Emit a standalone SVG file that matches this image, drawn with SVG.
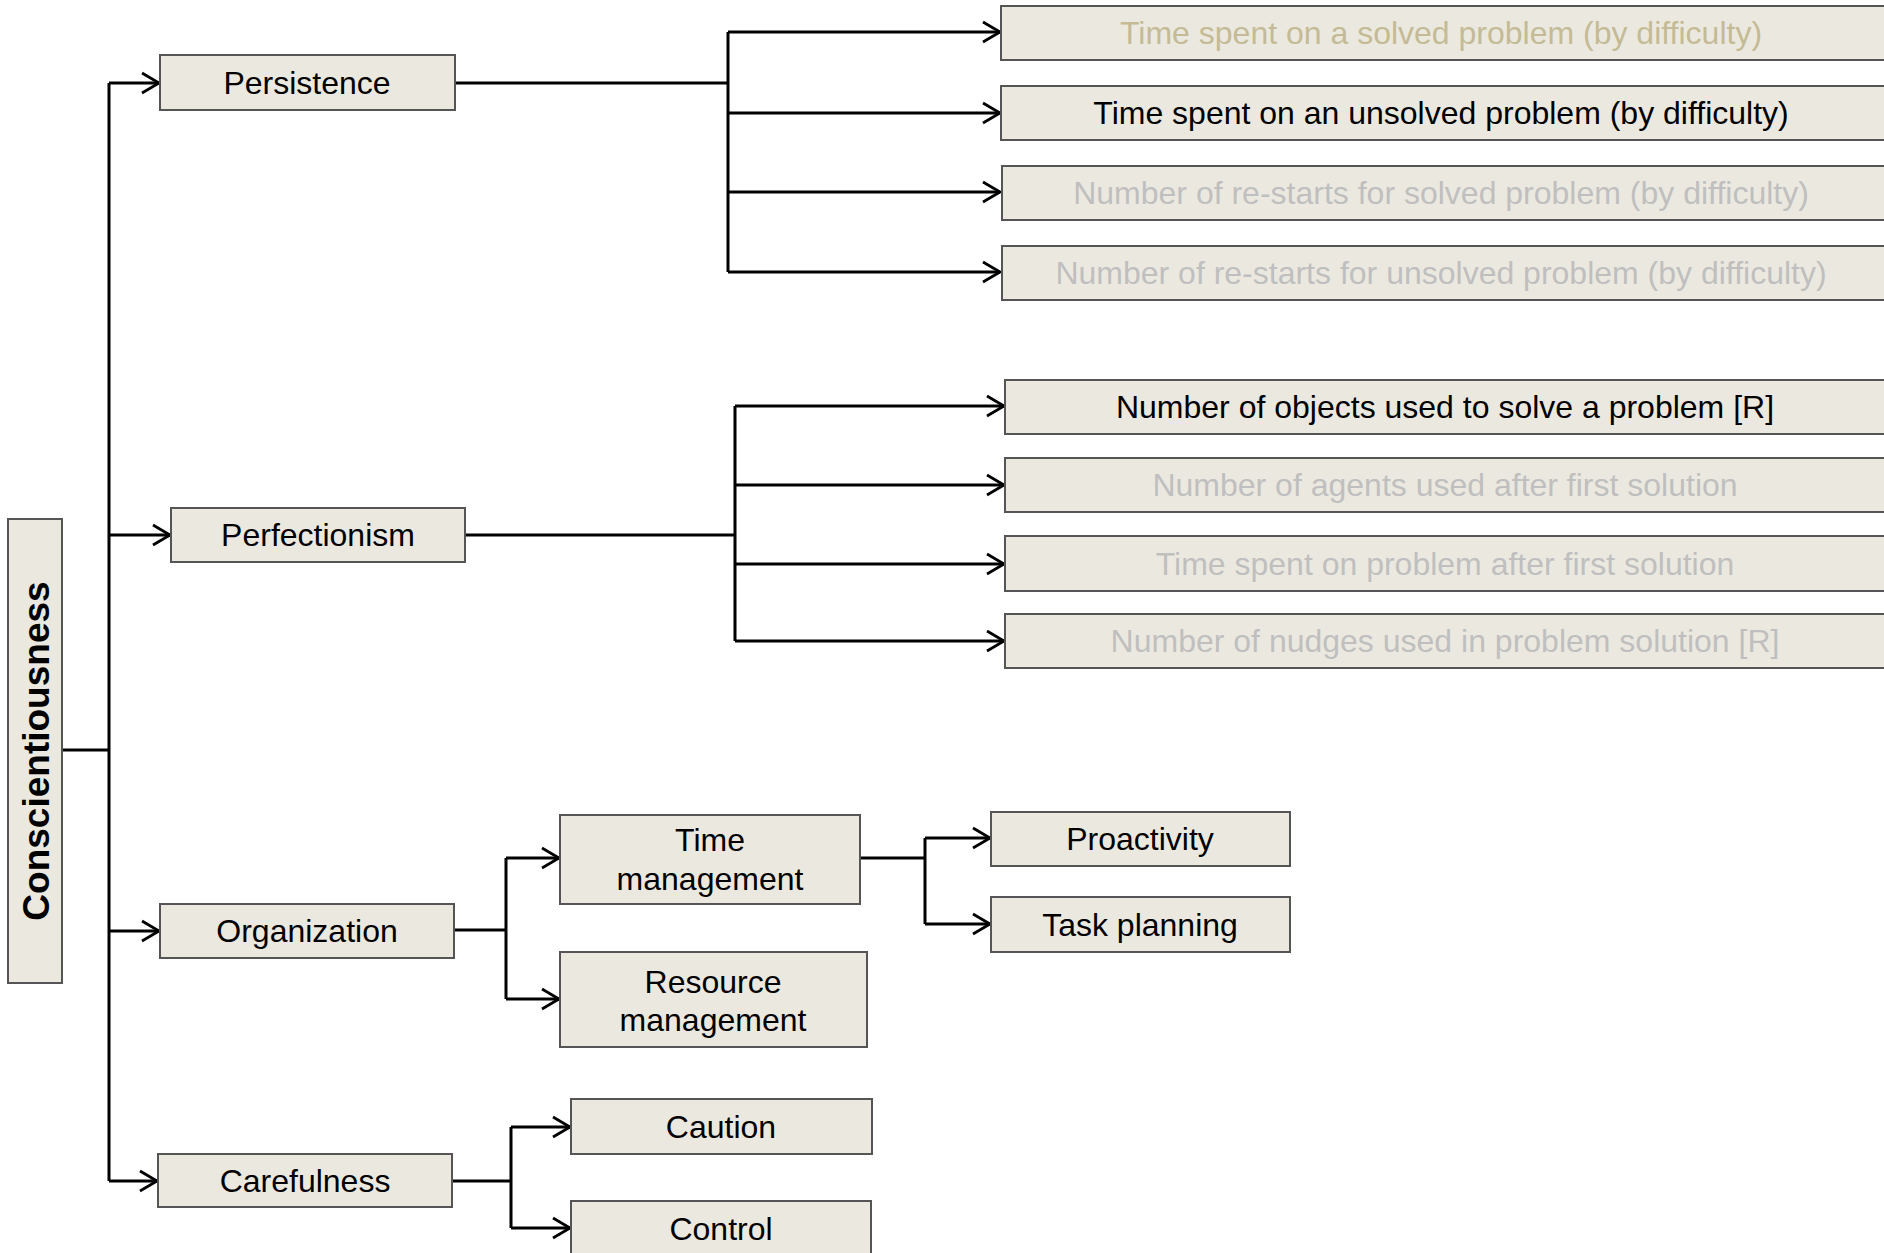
<svg xmlns="http://www.w3.org/2000/svg" width="1884" height="1253" viewBox="0 0 1884 1253">
<style>
.box{fill:#EBE9DF;stroke:#555555;stroke-width:2}
.t{font-family:"Liberation Sans",Arial,sans-serif;font-size:32px;text-anchor:middle;fill:#000}
.tan{fill:#C4BB96}
.gray{fill:#BFBFBF}
.c{fill:none;stroke:#000;stroke-width:3}
.a{fill:none;stroke:#000;stroke-width:3;marker-end:url(#arr)}
</style>
<defs>
<marker id="arr" markerUnits="userSpaceOnUse" viewBox="-20 -13 22 26" refX="0" refY="0" markerWidth="22" markerHeight="26" orient="auto" overflow="visible">
<path d="M-17,-10 L0,0 L-17,10" fill="none" stroke="#000" stroke-width="2.8"/>
</marker>
</defs>
<rect width="1884" height="1253" fill="#fff"/>
<g id="connectors">
<path class="c" d="M62,750 H109 M109,83 V1181"/>
<path class="a" d="M109,83 H159"/>
<path class="a" d="M109,535 H170"/>
<path class="a" d="M109,931 H159"/>
<path class="a" d="M109,1181 H157"/>
<path class="c" d="M455,83 H728 M728,32 V272"/>
<path class="a" d="M728,32 H1000"/>
<path class="a" d="M728,113 H1000"/>
<path class="a" d="M728,192 H1000"/>
<path class="a" d="M728,272 H1000"/>
<path class="c" d="M465,535 H735 M735,406 V641"/>
<path class="a" d="M735,406 H1004"/>
<path class="a" d="M735,485 H1004"/>
<path class="a" d="M735,564 H1004"/>
<path class="a" d="M735,641 H1004"/>
<path class="c" d="M454,930 H506 M506,858 V999"/>
<path class="a" d="M506,858 H559"/>
<path class="a" d="M506,999 H559"/>
<path class="c" d="M860,858 H925 M925,838 V924"/>
<path class="a" d="M925,838 H990"/>
<path class="a" d="M925,924 H990"/>
<path class="c" d="M452,1181 H511 M511,1127 V1228"/>
<path class="a" d="M511,1127 H570"/>
<path class="a" d="M511,1228 H570"/>
</g>
<g id="conscientiousness">
<rect class="box" x="8" y="519" width="54" height="464"/>
<text transform="translate(49,751) rotate(-90)" font-family="Liberation Sans,Arial,sans-serif" font-size="37" font-weight="bold" text-anchor="middle" fill="#000">Conscientiousness</text>
</g>
<g id="persistence">
<rect class="box" x="160" y="55" width="295" height="55"/>
<text class="t" x="307" y="94">Persistence</text>
</g>
<g id="perfectionism">
<rect class="box" x="171" y="508" width="294" height="54"/>
<text class="t" x="318" y="546">Perfectionism</text>
</g>
<g id="organization">
<rect class="box" x="160" y="904" width="294" height="54"/>
<text class="t" x="307" y="942">Organization</text>
</g>
<g id="carefulness">
<rect class="box" x="158" y="1154" width="294" height="53"/>
<text class="t" x="305" y="1192">Carefulness</text>
</g>
<g id="p1">
<rect class="box" x="1001" y="6" width="890" height="54"/>
<text class="t tan" x="1441" y="44">Time spent on a solved problem (by difficulty)</text>
</g>
<g id="p2">
<rect class="box" x="1001" y="86" width="890" height="54"/>
<text class="t" x="1441" y="124">Time spent on an unsolved problem (by difficulty)</text>
</g>
<g id="p3">
<rect class="box" x="1002" y="166" width="890" height="54"/>
<text class="t gray" x="1441" y="204">Number of re-starts for solved problem (by difficulty)</text>
</g>
<g id="p4">
<rect class="box" x="1002" y="246" width="890" height="54"/>
<text class="t gray" x="1441" y="284">Number of re-starts for unsolved problem (by difficulty)</text>
</g>
<g id="f1">
<rect class="box" x="1005" y="380" width="890" height="54"/>
<text class="t" x="1445" y="418">Number of objects used to solve a problem [R]</text>
</g>
<g id="f2">
<rect class="box" x="1005" y="458" width="890" height="54"/>
<text class="t gray" x="1445" y="496">Number of agents used after first solution</text>
</g>
<g id="f3">
<rect class="box" x="1005" y="536" width="890" height="55"/>
<text class="t gray" x="1445" y="575">Time spent on problem after first solution</text>
</g>
<g id="f4">
<rect class="box" x="1005" y="614" width="890" height="54"/>
<text class="t gray" x="1445" y="652">Number of nudges used in problem solution [R]</text>
</g>
<g id="time-management">
<rect class="box" x="560" y="815" width="300" height="89"/>
<text class="t" x="710" y="851">Time</text>
<text class="t" x="710" y="890">management</text>
</g>
<g id="resource-management">
<rect class="box" x="560" y="952" width="307" height="95"/>
<text class="t" x="713" y="993">Resource</text>
<text class="t" x="713" y="1031">management</text>
</g>
<g id="proactivity">
<rect class="box" x="991" y="812" width="299" height="54"/>
<text class="t" x="1140" y="850">Proactivity</text>
</g>
<g id="task-planning">
<rect class="box" x="991" y="897" width="299" height="55"/>
<text class="t" x="1140" y="936">Task planning</text>
</g>
<g id="caution">
<rect class="box" x="571" y="1099" width="301" height="55"/>
<text class="t" x="721" y="1138">Caution</text>
</g>
<g id="control">
<rect class="box" x="571" y="1201" width="300" height="70"/>
<text class="t" x="721" y="1240">Control</text>
</g>
</svg>
